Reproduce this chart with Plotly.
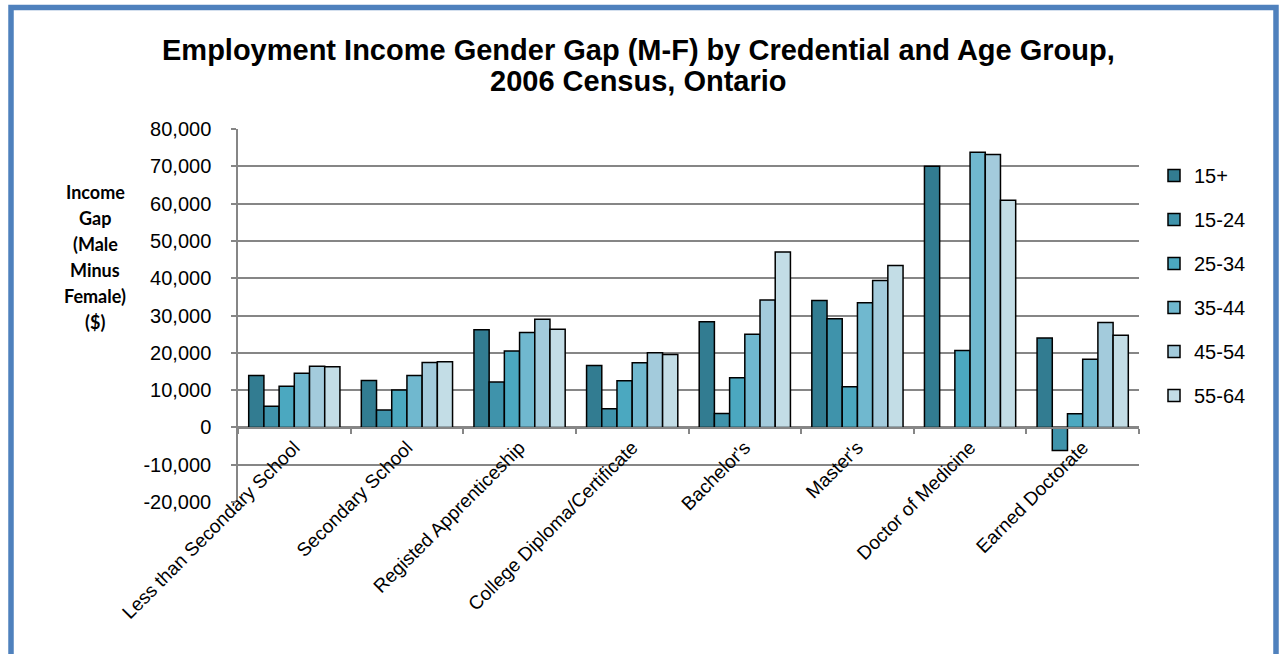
import plotly.graph_objects as go

# Credential categories (x axis)
credentials = [
    "Less than Secondary School",
    "Secondary School",
    "Registed Apprenticeship",
    "College Diploma/Certificate",
    "Bachelor's",
    "Master's",
    "Doctor of Medicine",
    "Earned Doctorate",
]

# Age groups (series)
age_groups = ["15+", "15-24", "25-34", "35-44", "45-54", "55-64"]

# Income gap (male minus female), dollars, per age group
gap_15_plus = [13900, 12600, 26200, 16600, 28300, 34000, 70000, 24000]
gap_15_24 = [5700, 4650, 12150, 5000, 3750, 29100, None, -6200]
gap_25_34 = [11000, 10000, 20450, 12500, 13300, 10900, 20600, 3650]
gap_35_44 = [14550, 13900, 25450, 17300, 24950, 33400, 73800, 18300]
gap_45_54 = [16400, 17400, 29000, 20000, 34150, 39400, 73150, 28100]
gap_55_64 = [16250, 17600, 26300, 19550, 47050, 43400, 60900, 24700]

series_values = [gap_15_plus, gap_15_24, gap_25_34, gap_35_44, gap_45_54, gap_55_64]
series_colors = ["#327C91", "#3F93AB", "#4BA8C0", "#70B8CF", "#A3CBDC", "#C3DDE6"]

y_tick_values = [-20000, -10000, 0, 10000, 20000, 30000, 40000, 50000, 60000, 70000, 80000]
y_tick_labels = ["-20,000", "-10,000", "0", "10,000", "20,000", "30,000", "40,000",
                 "50,000", "60,000", "70,000", "80,000"]

title_lines = ["Employment Income Gender Gap (M-F) by Credential and Age Group,",
               "2006 Census, Ontario"]
y_title_lines = ["Income", "Gap", "(Male", "Minus", "Female)", "($)"]

FONT = "Liberation Sans, Arial, sans-serif"

W, H = 1280, 654
L, R, T, B = 238, 141, 129, 152
plot_w = W - L - R
plot_h = H - T - B


def px_to_paper_x(px):
    return (px - L) / plot_w


def px_to_paper_y(py):
    return (H - B - py) / plot_h


fig = go.Figure()
for name, vals, col in zip(age_groups, series_values, series_colors):
    fig.add_trace(go.Bar(
        x=credentials, y=vals, name=name, legendgroup=name,
        marker=dict(color=col, line=dict(color="#000000", width=1.5)),
    ))

# Frame around the whole chart
fig.add_shape(type="rect", xref="paper", yref="paper",
              x0=px_to_paper_x(11), x1=px_to_paper_x(1276),
              y0=px_to_paper_y(720), y1=px_to_paper_y(7.5),
              line=dict(color="#4F81BD", width=5.5), fillcolor="rgba(0,0,0,0)",
              layer="above")

# Two-line chart title
for i, line in enumerate(title_lines):
    fig.add_annotation(
        text="<b>" + line + "</b>", xref="paper", yref="paper",
        x=px_to_paper_x(638), y=px_to_paper_y(50 + i * 31),
        xanchor="center", yanchor="middle", showarrow=False,
        font=dict(family=FONT, size=29, color="#000000"),
    )

# Stacked y-axis title, one line per annotation
for i, line in enumerate(y_title_lines):
    fig.add_annotation(
        text="<b>" + line + "</b>", xref="paper", yref="paper",
        x=px_to_paper_x(95), y=px_to_paper_y(192 + i * 26.0),
        xanchor="center", yanchor="middle", showarrow=False,
        font=dict(family="Lato, Carlito, sans-serif", size=18, color="#000000"),
    )

fig.update_layout(
    width=W, height=H,
    margin=dict(l=L, r=R, t=T, b=B, autoexpand=False),
    paper_bgcolor="#FFFFFF", plot_bgcolor="#FFFFFF",
    barmode="group", bargap=0.19, bargroupgap=0,
    font=dict(family=FONT, color="#000000"),
    showlegend=True,
    legend=dict(
        x=px_to_paper_x(1154), xanchor="left",
        y=px_to_paper_y(156), yanchor="top",
        font=dict(family=FONT, size=20, color="#000000"),
        traceorder="grouped", tracegroupgap=15,
        bgcolor="rgba(0,0,0,0)", itemclick=False,
    ),
    xaxis=dict(
        anchor="free", position=px_to_paper_y(428.3),
        showline=True, linecolor="#868686", linewidth=1.5,
        ticks="outside", ticklen=5, tickcolor="#868686", tickwidth=1.5,
        tickson="boundaries", tickangle=-45,
        tickfont=dict(family=FONT, size=19, color="#000000"),
        showgrid=False, zeroline=False, automargin=False,
    ),
    yaxis=dict(
        range=[-20000, 80000], tickvals=y_tick_values, ticktext=y_tick_labels,
        showline=True, linecolor="#868686", linewidth=1.5,
        ticks="outside", ticklen=5, tickcolor="#868686", tickwidth=1.5,
        ticklabelstandoff=16,
        showgrid=True, gridcolor="#868686", gridwidth=1.5,
        zeroline=False, tickfont=dict(family=FONT, size=20, color="#000000"),
        automargin=False,
    ),
)

fig.write_html("out.html")
